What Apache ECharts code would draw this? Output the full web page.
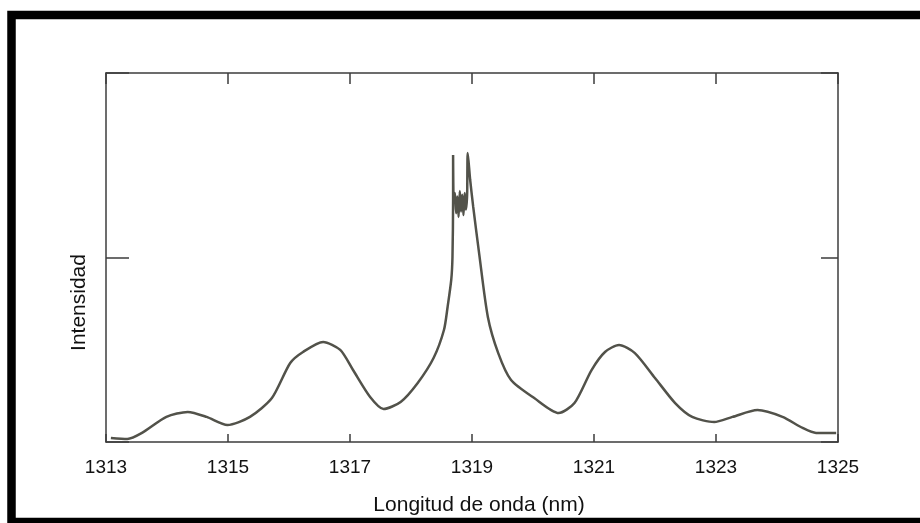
<!DOCTYPE html>
<html>
<head>
<meta charset="utf-8">
<script src="https://cdn.jsdelivr.net/npm/echarts@6/dist/echarts.min.js"></script>
<style>
  html, body { margin: 0; padding: 0; background: #ffffff; }
  #chart { width: 920px; height: 523px; }
</style>
</head>
<body>
<div id="chart"></div>
<script>
// longitud de onda (nm)
var wavelength = [
  1313.08, 1313.35, 1313.59, 1313.99, 1314.34, 1314.65, 1314.99, 1315.36, 1315.72,
  1316.02, 1316.23, 1316.56, 1316.84, 1317.05, 1317.33, 1317.55, 1317.83, 1318.11,
  1318.37, 1318.54, 1318.60, 1318.66, 1318.68, 1318.69, 1318.69,
  1318.70, 1318.72, 1318.74, 1318.76, 1318.78, 1318.80, 1318.82, 1318.84, 1318.86, 1318.88, 1318.90, 1318.92,
  1318.93, 1318.97, 1319.02, 1319.12, 1319.26, 1319.43, 1319.64, 1320.02, 1320.42, 1320.68,
  1320.96, 1321.18, 1321.41, 1321.67, 1322.00, 1322.33, 1322.61, 1322.97, 1323.27,
  1323.68, 1324.09, 1324.42, 1324.64, 1324.97
];
// intensidad (unidades arbitrarias)
var intensity = [
  0.022, 0.016, 0.049, 0.136, 0.163, 0.136, 0.092, 0.136, 0.238,
  0.428, 0.488, 0.542, 0.499, 0.390, 0.244, 0.179, 0.217, 0.320,
  0.455, 0.607, 0.732, 0.880, 1.003, 1.312, 1.556,
  1.300, 1.350, 1.240, 1.330, 1.220, 1.360, 1.250, 1.340, 1.230, 1.350, 1.260, 1.340,
  1.566, 1.420, 1.274, 1.014, 0.678, 0.482, 0.336, 0.238, 0.157, 0.211,
  0.390, 0.488, 0.526, 0.482, 0.347, 0.211, 0.136, 0.108, 0.136,
  0.173, 0.136, 0.076, 0.049, 0.049
];
var xTicks = [1313, 1315, 1317, 1319, 1321, 1323, 1325];

var points = wavelength.map(function (w, i) { return [w, intensity[i]]; });

var chart = echarts.init(document.getElementById('chart'));
var axisColor = '#3c3c3c';
var fontFamily = 'Liberation Sans, Arial, sans-serif';

chart.setOption({
  backgroundColor: '#ffffff',
  animation: false,
  grid: { left: 106, right: 82, top: 73, bottom: 81 },
  xAxis: [
    {
      type: 'value',
      min: xTicks[0],
      max: xTicks[xTicks.length - 1],
      interval: 2,
      position: 'bottom',
      name: 'Longitud de onda (nm)',
      nameLocation: 'middle',
      nameGap: 53,
      nameTextStyle: { color: '#111', fontSize: 21, fontFamily: fontFamily, padding: [0, 0, 0, 14] },
      axisLine: { show: true, onZero: false, lineStyle: { color: axisColor, width: 1.5 } },
      axisTick: { show: true, inside: true, length: 8, lineStyle: { color: axisColor, width: 1.5 } },
      axisLabel: {
        color: '#111', fontSize: 19, fontFamily: fontFamily, margin: 16,
        formatter: function (v) { return String(v); }
      },
      splitLine: { show: false }
    },
    {
      type: 'value',
      min: xTicks[0],
      max: xTicks[xTicks.length - 1],
      interval: 2,
      position: 'top',
      axisLine: { show: true, onZero: false, lineStyle: { color: axisColor, width: 1.5 } },
      axisTick: { show: true, inside: true, length: 11, lineStyle: { color: axisColor, width: 1.5 } },
      axisLabel: { show: false },
      splitLine: { show: false }
    }
  ],
  yAxis: [
    {
      type: 'value',
      min: 0,
      max: 2,
      interval: 1,
      position: 'left',
      name: 'Intensidad',
      nameLocation: 'middle',
      nameGap: 16,
      nameTextStyle: { color: '#111', fontSize: 21, fontFamily: fontFamily, padding: [0, 90, 0, 0] },
      axisLine: { show: true, onZero: false, lineStyle: { color: axisColor, width: 1.5 } },
      axisTick: { show: true, inside: true, length: 23, lineStyle: { color: axisColor, width: 1.5 } },
      axisLabel: { show: false },
      splitLine: { show: false }
    },
    {
      type: 'value',
      min: 0,
      max: 2,
      interval: 1,
      position: 'right',
      axisLine: { show: true, onZero: false, lineStyle: { color: axisColor, width: 1.5 } },
      axisTick: { show: true, inside: true, length: 17, lineStyle: { color: axisColor, width: 1.5 } },
      axisLabel: { show: false },
      splitLine: { show: false }
    }
  ],
  series: [
    {
      type: 'line',
      data: points,
      showSymbol: false,
      smooth: 0.25,
      lineStyle: { color: '#52524a', width: 2.5 }
    }
  ],
  graphic: [
    {
      type: 'rect',
      silent: true,
      shape: { x: 11.5, y: 15, width: 1000, height: 507 },
      style: { fill: 'none', stroke: '#000', lineWidth: 8.5 }
    }
  ]
});
</script>
</body>
</html>
